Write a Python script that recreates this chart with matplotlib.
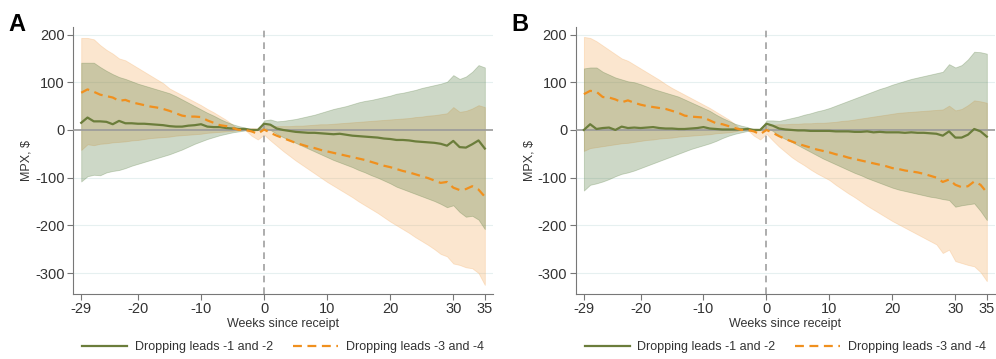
import numpy as np
import matplotlib
matplotlib.use('Agg')
import matplotlib.pyplot as plt
from matplotlib.lines import Line2D

plt.rcParams['font.family'] = ['Liberation Sans', 'DejaVu Sans']
plt.rcParams['axes.unicode_minus'] = False

# semanas desde la recepción
weeks = list(range(-29, 36))

# Panel A
gA_mid = [15, 26, 18, 18, 17, 12, 19, 14, 14, 13,
          13, 12, 11, 10, 8, 7, 7, 9, 10, 12,
          7, 6, 6, 4, 3, 2, 2, 0, 0, 13,
          11, 3, 0, -2, -4, -5, -6, -6, -7, -8,
          -9, -8, -10, -12, -13, -14, -15, -16, -18, -19,
          -21, -21, -22, -24, -25, -26, -27, -29, -33, -23,
          -36, -37, -30, -22, -39]
gA_hi = [141, 141, 141, 132, 124, 117, 111, 107, 102, 97,
         93, 89, 85, 81, 77, 71, 64, 57, 50, 43,
         36, 30, 23, 17, 12, 8, 5, 0, 0, 20,
         22, 18, 19, 21, 23, 26, 29, 32, 36, 40,
         44, 47, 50, 54, 58, 61, 63, 66, 69, 72,
         76, 78, 81, 84, 88, 91, 94, 97, 101, 115,
         107, 112, 122, 136, 131]
gA_lo = [-108, -97, -94, -95, -89, -86, -84, -80, -75, -71,
         -67, -63, -59, -55, -51, -46, -41, -35, -29, -24,
         -19, -15, -11, -8, -5, -3, -1, 0, 0, 5,
         0, -8, -15, -21, -27, -33, -39, -45, -51, -57,
         -63, -68, -73, -78, -84, -89, -95, -100, -106, -112,
         -119, -124, -129, -134, -139, -144, -149, -155, -162, -158,
         -172, -182, -180, -188, -208]
oA_mid = [78, 85, 80, 74, 71, 68, 61, 63, 58, 55,
          52, 49, 47, 44, 40, 35, 30, 28, 28, 27,
          20, 15, 10, 8, 4, 0, 0, -3, -8, 1,
          -6, -12, -17, -22, -27, -31, -35, -38, -42, -45,
          -48, -51, -54, -57, -60, -63, -67, -71, -75, -78,
          -82, -86, -89, -93, -97, -101, -106, -111, -109, -121,
          -126, -124, -118, -125, -140]
oA_hi = [193, 193, 190, 178, 168, 160, 150, 146, 138, 130,
         122, 114, 106, 98, 87, 80, 73, 66, 59, 52,
         44, 37, 29, 21, 11, 0, 0, 4, 3, 10,
         9, 8, 8, 8, 9, 9, 10, 11, 12, 12,
         13, 14, 15, 16, 17, 18, 19, 20, 21, 22,
         23, 24, 25, 27, 28, 30, 31, 33, 35, 48,
         38, 40, 45, 52, 48]
oA_lo = [-42, -30, -32, -29, -28, -26, -25, -24, -22, -21,
         -19, -17, -16, -15, -14, -12, -11, -10, -9, -8,
         -6, -5, -4, -3, -2, 0, 0, -12, -20, -10,
         -22, -33, -44, -54, -64, -73, -82, -91, -100, -109,
         -117, -125, -133, -141, -150, -158, -166, -174, -183, -192,
         -200, -208, -216, -225, -233, -241, -250, -260, -265, -280,
         -283, -288, -290, -300, -325]

# Panel B
gB_mid = [0, 12, 2, 4, 5, 0, 7, 4, 5, 4,
          5, 6, 4, 3, 3, 2, 2, 3, 4, 6,
          3, 2, 1, 1, 1, 1, 2, 0, 0, 13,
          9, 3, 1, 0, -1, -1, -2, -2, -2, -2,
          -3, -3, -3, -4, -4, -3, -5, -4, -5, -5,
          -5, -6, -5, -6, -6, -7, -8, -12, -3, -16,
          -16, -10, 2, -3, -14]
gB_hi = [129, 131, 131, 122, 116, 110, 106, 102, 100, 96,
         91, 86, 82, 78, 74, 70, 64, 58, 52, 46,
         40, 32, 25, 19, 13, 9, 6, 0, 0, 20,
         20, 19, 22, 25, 28, 32, 35, 39, 42, 46,
         51, 56, 61, 66, 71, 76, 81, 86, 90, 95,
         99, 103, 107, 110, 113, 116, 119, 122, 138, 131,
         136, 148, 164, 163, 160]
gB_lo = [-127, -115, -112, -108, -103, -97, -92, -89, -85, -80,
         -75, -70, -65, -60, -55, -50, -45, -40, -36, -32,
         -28, -23, -17, -12, -8, -5, -2, 0, 0, 5,
         -2, -12, -19, -25, -32, -39, -46, -53, -60, -66,
         -72, -78, -84, -90, -95, -101, -106, -111, -116, -121,
         -125, -128, -131, -134, -137, -140, -142, -145, -147, -161,
         -158, -156, -154, -170, -189]
oB_mid = [75, 82, 80, 69, 68, 64, 58, 62, 57, 53,
          50, 48, 46, 44, 40, 36, 30, 28, 27, 26,
          20, 14, 12, 8, 4, 0, 0, -3, -9, 0,
          -6, -13, -19, -24, -29, -33, -37, -41, -44, -47,
          -51, -54, -58, -61, -64, -67, -70, -73, -76, -80,
          -82, -85, -87, -89, -92, -96, -100, -109, -104, -115,
          -120, -118, -108, -115, -131]
oB_hi = [195, 193, 186, 177, 168, 159, 150, 145, 137, 129,
         121, 113, 105, 96, 88, 81, 74, 67, 60, 53,
         46, 38, 30, 22, 12, 0, 0, 3, 2, 8,
         11, 12, 12, 13, 13, 14, 14, 15, 15, 16,
         17, 19, 20, 22, 24, 26, 28, 30, 32, 34,
         36, 37, 38, 39, 40, 41, 42, 43, 51, 41,
         44, 52, 62, 60, 57]
oB_lo = [-44, -38, -36, -34, -32, -30, -28, -27, -25, -23,
         -21, -20, -18, -17, -16, -14, -13, -12, -11, -10,
         -9, -7, -6, -5, -3, 0, 0, -12, -20, -8,
         -22, -35, -46, -57, -66, -74, -83, -91, -98, -105,
         -115, -124, -133, -141, -150, -159, -167, -175, -183, -191,
         -198, -205, -212, -219, -226, -233, -240, -258, -251, -275,
         -279, -283, -286, -298, -317]

xticks = [-29, -20, -10, 0, 10, 20, 30, 35]
yticks = [-300, -200, -100, 0, 100, 200]
labels = ['Dropping leads -1 and -2', 'Dropping leads -3 and -4']

green = '#6b7d3b'
orange = '#f0901e'

fig = plt.figure(figsize=(9.96, 3.59), dpi=100)
axA = fig.add_axes([0.0733, 0.181, 0.4217, 0.744])
axB = fig.add_axes([0.578, 0.181, 0.421, 0.744])

panels = [(axA, 'A', gA_mid, gA_hi, gA_lo, oA_mid, oA_hi, oA_lo),
          (axB, 'B', gB_mid, gB_hi, gB_lo, oB_mid, oB_hi, oB_lo)]

for ax, letter, gm, gh, gl, om, oh, ol in panels:
    for y in yticks:
        if y != 0:
            ax.axhline(y, color='#e6f0f0', lw=0.8, zorder=0)
    ax.fill_between(weeks, ol, oh, color='#f5ad62', alpha=0.3, lw=0.6, zorder=1)
    ax.fill_between(weeks, gl, gh, color='#4d7536', alpha=0.28, lw=0.6, zorder=2)
    ax.axhline(0, color='#9a9a9a', lw=1.2, zorder=3)
    ax.axvline(0, color='#a0a0a0', lw=1.2, ls=(0, (4, 3)), zorder=3)
    ax.plot(weeks, gm, color=green, lw=1.6, zorder=4)
    ax.plot(weeks, om, color=orange, lw=1.6, ls=(0, (4, 2.5)), zorder=4)

    ax.set_xlim(-30.3, 36.3)
    ax.set_ylim(-344, 216)
    ax.set_xticks(xticks)
    ax.set_yticks(yticks)
    ax.tick_params(labelsize=10.5, colors='#333333', length=4, color='#777777', pad=2)
    ax.spines['top'].set_visible(False)
    ax.spines['right'].set_visible(False)
    ax.spines['left'].set_color('#777777')
    ax.spines['bottom'].set_color('#777777')
    ax.set_xlabel('Weeks since receipt', fontsize=9, color='#333333', labelpad=1)
    ax.set_ylabel('MPX, \\$', fontsize=9, color='#333333')
    ax.yaxis.set_label_coords(-0.097, 0.5)

    bbox = ax.get_position()
    fig.text(bbox.x0 - 0.065, 0.965, letter, fontsize=17, fontweight='bold', va='top')

    handles = [Line2D([], [], color=green, lw=1.6),
               Line2D([], [], color=orange, lw=1.6, ls=(0, (4, 2.5)))]
    ax.legend(handles, labels, loc='center', bbox_to_anchor=(0.5, -0.198),
              ncol=2, frameon=False, fontsize=9, handlelength=3.6,
              columnspacing=1.6, handletextpad=0.6, labelcolor='#333333',
              borderaxespad=0, borderpad=0)

plt.savefig('out.png', dpi=100)
